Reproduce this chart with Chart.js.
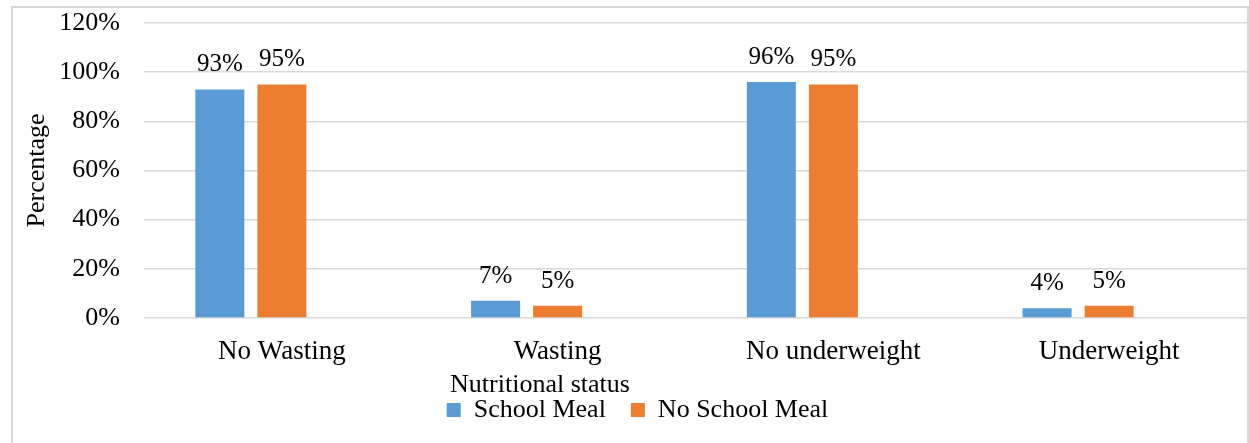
<!DOCTYPE html>
<html>
<head>
<meta charset="utf-8">
<script src="https://cdn.jsdelivr.net/npm/chart.js@4"></script>
<style>
  html, body { margin: 0; padding: 0; background: #fff; }
  canvas { display: block; }
</style>
</head>
<body>
<canvas id="nutritionChart" width="1249" height="443"></canvas>
<script>
const categories = ["No Wasting", "Wasting", "No underweight", "Underweight"];
const schoolMeal = [93, 7, 96, 4];
const noSchoolMeal = [95, 5, 95, 5];
// the original Excel chart has an empty third series, it pushes bars left in each group
const emptySeries = [null, null, null, null];
const yMin = 0, yMax = 120, yStep = 20;

const serif = "'Liberation Serif', 'Times New Roman', serif";
const gridColor = "#D9D9D9";

// grey frame round the whole chart
const frame = {
    id: "frame",
    beforeDraw(chart) {
        const ctx = chart.ctx;
        ctx.save();
        ctx.strokeStyle = gridColor;
        ctx.lineWidth = 2;
        ctx.strokeRect(12, 7, 1236, 470);
        ctx.restore();
    }
};

// value labels above bars
const valueLabels = {
    id: "valueLabels",
    afterDatasetsDraw(chart) {
        const ctx = chart.ctx;
        ctx.save();
        ctx.font = "25px " + serif;
        ctx.fillStyle = "#000";
        ctx.textAlign = "center";
        ctx.textBaseline = "alphabetic";
        chart.data.datasets.forEach((ds, i) => {
            chart.getDatasetMeta(i).data.forEach((bar, j) => {
                const v = ds.data[j];
                if (v == null) return;
                ctx.fillText(v + "%", bar.x, bar.y - 18);
            });
        });
        ctx.restore();
    }
};

// x axis title sits left of the plot centre in the original
const xTitle = {
    id: "xTitle",
    afterDraw(chart) {
        const ctx = chart.ctx;
        ctx.save();
        ctx.font = "26px " + serif;
        ctx.fillStyle = "#000";
        ctx.textAlign = "center";
        ctx.textBaseline = "alphabetic";
        ctx.fillText("Nutritional status", 540, 392);
        ctx.restore();
    }
};

new Chart(document.getElementById("nutritionChart"), {
    type: "bar",
    data: {
        labels: categories,
        datasets: [
            { label: "School Meal", data: schoolMeal, backgroundColor: "#5B9BD5" },
            { label: "No School Meal", data: noSchoolMeal, backgroundColor: "#ED7D31" },
            { label: "", data: emptySeries, backgroundColor: "#A5A5A5" }
        ]
    },
    options: {
        responsive: false,
        animation: false,
        devicePixelRatio: 1,
        layout: { padding: { left: 28, right: 2, top: 23, bottom: 10 } },
        datasets: {
            bar: { categoryPercentage: 0.675, barPercentage: 0.79 }
        },
        scales: {
            x: {
                grid: { display: false },
                border: { display: false },
                ticks: { color: "#000", font: { family: serif, size: 27 }, padding: 10 },
                afterFit(scale) { scale.height = 54; }
            },
            y: {
                min: yMin,
                max: yMax,
                ticks: {
                    stepSize: yStep,
                    color: "#000",
                    font: { family: serif, size: 26 },
                    padding: 0,
                    callback: v => v + "%"
                },
                // invisible tick marks give the gap between labels and plot
                grid: { color: gridColor, lineWidth: 1.5, drawTicks: true, tickLength: 24, tickColor: "rgba(0,0,0,0)" },
                border: { display: false },
                title: {
                    display: true,
                    text: "Percentage",
                    color: "#000",
                    font: { family: serif, size: 26 },
                    padding: { top: -6, bottom: 0 }
                },
                afterFit(scale) { scale.width = 116; }
            }
        },
        plugins: {
            legend: {
                position: "bottom",
                labels: {
                    color: "#000",
                    font: { family: serif, size: 26 },
                    boxWidth: 14,
                    boxHeight: 14,
                    padding: 25,
                    filter: item => item.text !== ""
                }
            },
            tooltip: { enabled: false }
        }
    },
    plugins: [frame, valueLabels, xTitle]
});
</script>
</body>
</html>
